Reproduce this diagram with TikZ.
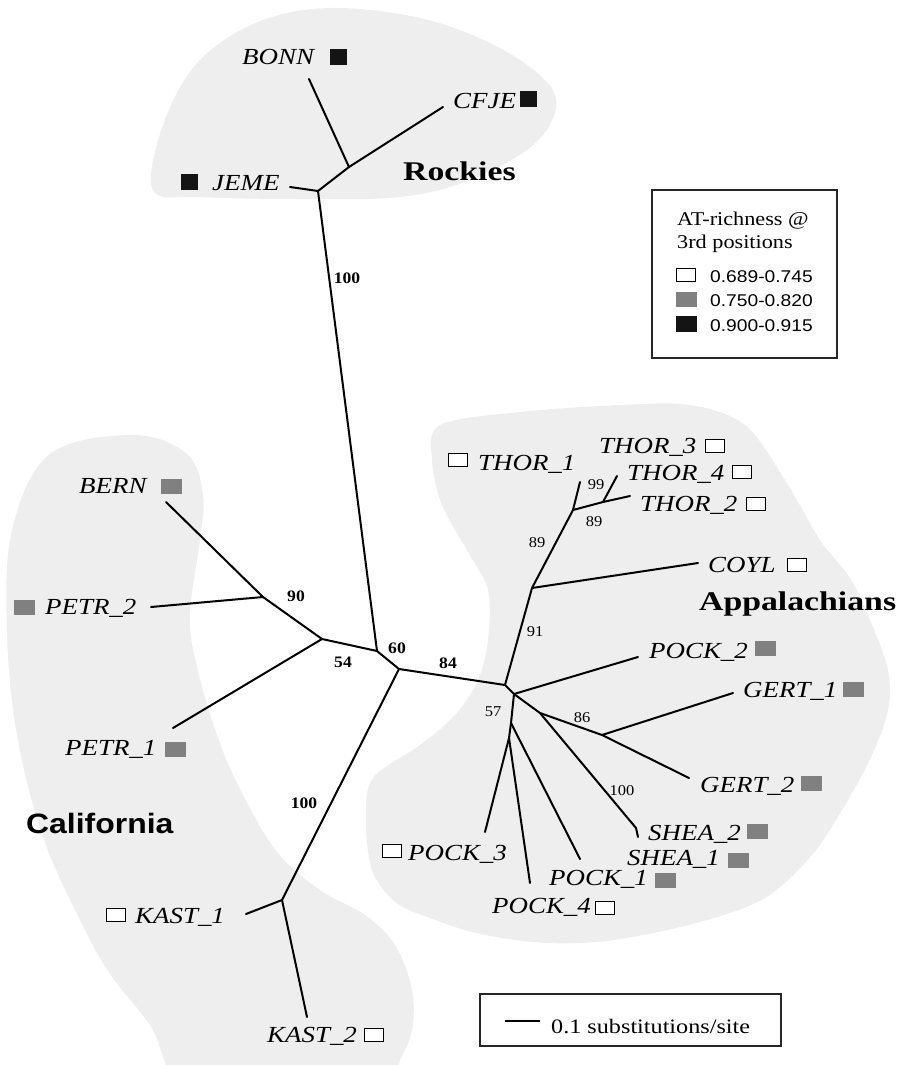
\documentclass[tikz,border=0pt]{standalone}
\usepackage{fontspec}
\setmainfont{Liberation Serif}
\newfontfamily\sansf{Liberation Sans}
\usepackage{graphicx}
\newcommand{\strx}[2][1.17]{\scalebox{#1}[1]{#2}}
\definecolor{blobgray}{gray}{0.935}
\definecolor{sqgray}{gray}{0.5}
\definecolor{sqblack}{gray}{0.08}
\tikzset{
  br/.style={line width=2pt, line cap=round},
  taxon/.style={anchor=base west, inner sep=0pt, font=\fontsize{23}{25}\selectfont\itshape},
  region/.style={anchor=base west, inner sep=0pt, font=\fontsize{27}{29}\selectfont\bfseries},
  bsb/.style={inner sep=0pt, font=\fontsize{16}{17}\selectfont\bfseries},
  bsr/.style={inner sep=0pt, font=\fontsize{15}{16}\selectfont},
  sqw/.style={draw=black, line width=1.3pt, fill=white, minimum width=19pt, minimum height=13pt, inner sep=0pt},
  sqg/.style={fill=sqgray, minimum width=21pt, minimum height=15pt, inner sep=0pt},
  sqb/.style={fill=sqblack, minimum width=17pt, minimum height=16pt, inner sep=0pt},
  blob/.style={fill=blobgray},
  legtxt/.style={anchor=base west, inner sep=0pt, font=\fontsize{19.5}{21}\selectfont},
  legnum/.style={anchor=base west, inner sep=0pt, font=\fontsize{17}{19}\sansf},
}
\begin{document}
\begin{tikzpicture}[x=1pt,y=-1pt]
\useasboundingbox (0,0) rectangle (897,1065);
\begin{scope}
\clip (0,0) rectangle (897,1065);
% Rockies blob
\fill[blob] plot[smooth cycle, tension=0.6] coordinates {
 (153,190) (163,125) (198,62) (258,22) (330,8) (420,18) (492,44) (543,78)
 (556,108) (532,146) (470,180) (400,197) (300,199) (200,197)};
% California blob
\fill[blob] plot[smooth cycle, tension=0.6] coordinates {
 (12,530) (50,454) (133,435) (187,454) (203,495) (200,540) (190,615) (197,667)
 (217,735) (240,789) (277,852) (320,890) (365,915) (395,945) (412,990) (412,1030)
 (400,1060) (380,1100) (200,1100) (150,1025) (110,974) (80,920) (43,837)
 (17,735) (7,632)};
% Appalachians blob
\fill[blob] plot[smooth cycle, tension=0.55] coordinates {
 (440,425) (520,412) (620,405) (690,405) (745,425) (785,480) (820,540) (850,578)
 (870,620) (888,670) (888,710) (872,755) (845,805) (812,855) (765,898) (700,922)
 (614,940) (547,943) (480,934) (430,918) (395,902) (372,870) (366,820) (373,778)
 (420,745) (455,715) (478,680) (488,640) (488,590) (468,552) (442,505) (432,460)};
\end{scope}

% ---------- tree coordinates ----------
\coordinate (R2) at (349,167);
\coordinate (R1) at (318,191);
\coordinate (A) at (377,651);
\coordinate (P0) at (322,639);
\coordinate (P1) at (263,597);
\coordinate (B) at (399,669);
\coordinate (K) at (282,900);
\coordinate (C) at (505,685);
\coordinate (Cy) at (532,588);
\coordinate (T) at (573,510);
\coordinate (T2) at (603,502);
\coordinate (T34) at (617,476);
\coordinate (D) at (514,694);
\coordinate (E) at (511,723);
\coordinate (E2) at (509,738);
\coordinate (F) at (540,713);
\coordinate (G) at (602,735);
\coordinate (S) at (636,828);
\coordinate (tBONN) at (309,79);
\coordinate (tCFJE) at (443,107);
\coordinate (tJEME) at (290,187);
\coordinate (tBERN) at (166,502);
\coordinate (tPETRb) at (151,607);
\coordinate (tPETRa) at (173,728);
\coordinate (tKASTa) at (246,914);
\coordinate (tKASTb) at (307,1017);
\coordinate (tTHORa) at (580,482);
\coordinate (tTHORb) at (630,496);
\coordinate (tCOYL) at (698,563);
\coordinate (tPOCKb) at (638,657);
\coordinate (tGERTa) at (733,693);
\coordinate (tGERTb) at (689,778);
\coordinate (tSHEA) at (638,837);
\coordinate (tPOCKa) at (580,859);
\coordinate (tPOCKd) at (530,883);
\coordinate (tPOCKc) at (485,832);

% ---------- branches ----------
\draw[br] (tBONN) -- (R2);
\draw[br] (tCFJE) -- (R2) -- (R1);
\draw[br] (tJEME) -- (R1);
\draw[br] (R1) -- (A);
\draw[br] (tBERN) -- (P1) -- (P0) -- (A);
\draw[br] (tPETRb) -- (P1);
\draw[br] (tPETRa) -- (P0);
\draw[br] (A) -- (B);
\draw[br] (B) -- (K);
\draw[br] (tKASTa) -- (K) -- (tKASTb);
\draw[br] (B) -- (C);
\draw[br] (C) -- (Cy) -- (T);
\draw[br] (Cy) -- (tCOYL);
\draw[br] (T) -- (tTHORa);
\draw[br] (T) -- (T2) -- (tTHORb);
\draw[br] (T2) -- (T34);
\draw[br] (C) -- (D);
\draw[br] (D) -- (tPOCKb);
\draw[br] (D) -- (E) -- (E2);
\draw[br] (E) -- (tPOCKa);
\draw[br] (E2) -- (tPOCKc);
\draw[br] (E2) -- (tPOCKd);
\draw[br] (D) -- (F) -- (S) -- (tSHEA);
\draw[br] (F) -- (G);
\draw[br] (G) -- (tGERTa);
\draw[br] (G) -- (tGERTb);

% ---------- taxon labels and squares ----------
\node[taxon] (lBONN) at (242,65) {\strx{BONN}};
\node[sqb] (sBONN) at (338,57) {};
\node[taxon] (lCFJE) at (453,108) {\strx{CFJE}};
\node[sqb] (sCFJE) at (528,99) {};
\node[taxon] (lJEME) at (212,190) {\strx{JEME}};
\node[sqb] (sJEME) at (189,182) {};
\node[taxon] (lBERN) at (79,493) {\strx{BERN}};
\node[sqg] (sBERN) at (171,486) {};
\node[taxon] (lPETRb) at (45,614) {\strx{PETR\_2}};
\node[sqg] (sPETRb) at (24,607) {};
\node[taxon] (lPETRa) at (65,755) {\strx{PETR\_1}};
\node[sqg] (sPETRa) at (175,749) {};
\node[taxon] (lKASTa) at (135,923) {\strx{KAST\_1}};
\node[sqw] (sKASTa) at (116,915) {};
\node[taxon] (lKASTb) at (267,1042) {\strx{KAST\_2}};
\node[sqw] (sKASTb) at (374,1035) {};
\node[taxon] (lTHORa) at (478,470) {\strx{THOR\_1}};
\node[sqw] (sTHORa) at (458,460) {};
\node[taxon] (lTHORc) at (599,453) {\strx{THOR\_3}};
\node[sqw] (sTHORc) at (715,446) {};
\node[taxon] (lTHORd) at (627,480) {\strx{THOR\_4}};
\node[sqw] (sTHORd) at (742,472) {};
\node[taxon] (lTHORb) at (640,511) {\strx{THOR\_2}};
\node[sqw] (sTHORb) at (756,504) {};
\node[taxon] (lCOYL) at (708,572) {\strx{COYL}};
\node[sqw] (sCOYL) at (797,565) {};
\node[taxon] (lPOCKb) at (649,658) {\strx{POCK\_2}};
\node[sqg] (sPOCKb) at (765,648) {};
\node[taxon] (lGERTa) at (743,697) {\strx{GERT\_1}};
\node[sqg] (sGERTa) at (853,689) {};
\node[taxon] (lGERTb) at (700,792) {\strx{GERT\_2}};
\node[sqg] (sGERTb) at (811,783) {};
\node[taxon] (lSHEAb) at (648,840) {\strx{SHEA\_2}};
\node[sqg] (sSHEAb) at (757,831) {};
\node[taxon] (lSHEAa) at (627,865) {\strx{SHEA\_1}};
\node[sqg] (sSHEAa) at (738,860) {};
\node[taxon] (lPOCKa) at (549,885) {\strx{POCK\_1}};
\node[sqg] (sPOCKa) at (665,880) {};
\node[taxon] (lPOCKd) at (492,913) {\strx{POCK\_4}};
\node[sqw] (sPOCKd) at (605,908) {};
\node[taxon] (lPOCKc) at (408,860) {\strx{POCK\_3}};
\node[sqw] (sPOCKc) at (392,851) {};

% ---------- region labels ----------
\node[region] (rRock) at (403,180) {\strx[1.25]{Rockies}};
\node[region] (rApp) at (699,610) {\strx[1.25]{Appalachians}};
\node[anchor=base west, inner sep=0pt, font=\fontsize{28}{30}\sansf\bfseries] (rCal) at (26,833) {\strx[1.14]{California}};

% ---------- bootstrap values ----------
\node[bsb] (b100a) at (347,278) {\strx[1.1]{100}};
\node[bsb] (b90) at (296,596) {\strx[1.1]{90}};
\node[bsb] (b54) at (343,662) {\strx[1.1]{54}};
\node[bsb] (b60) at (397,648) {\strx[1.1]{60}};
\node[bsb] (b84) at (448,663) {\strx[1.1]{84}};
\node[bsb] (b100b) at (304,803) {\strx[1.1]{100}};
\node[bsr] (b99) at (596,485) {\strx[1.1]{99}};
\node[bsr] (b89a) at (594,522) {\strx[1.1]{89}};
\node[bsr] (b89b) at (537,543) {\strx[1.1]{89}};
\node[bsr] (b91) at (535,632) {\strx[1.1]{91}};
\node[bsr] (b57) at (493,712) {\strx[1.1]{57}};
\node[bsr] (b86) at (582,718) {\strx[1.1]{86}};
\node[bsr] (b100c) at (622,791) {\strx[1.1]{100}};

% ---------- legend ----------
\node[draw=black!85, line width=1.5pt, minimum width=185pt, minimum height=168pt, inner sep=0pt, anchor=north west] (leg) at (651,189) {};
\node[legtxt] (lt1) at (677,225) {\strx[1.14]{AT-richness @}};
\node[legtxt] (lt2) at (677,248) {\strx[1.14]{3rd positions}};
\node[sqw] (lq1) at (686,275) {};
\node[sqg] (lq2) at (686,299) {};
\node[sqb, minimum width=21pt] (lq3) at (686,324) {};
\node[legnum] (ln1) at (710,282) {\strx[1.13]{0.689-0.745}};
\node[legnum] (ln2) at (710,306) {\strx[1.13]{0.750-0.820}};
\node[legnum] (ln3) at (710,331) {\strx[1.13]{0.900-0.915}};

% ---------- scale bar ----------
\node[draw=black!85, line width=1.5pt, minimum width=301pt, minimum height=52pt, inner sep=0pt, anchor=north west] (scl) at (479,993) {};
\coordinate (sa) at (505,1021);
\coordinate (sb) at (540,1021);
\draw[line width=1.4pt] (sa) -- (sb);
\node[legtxt, font=\fontsize{20.5}{22}\selectfont] (stx) at (551,1033) {\strx[1.18]{0.1 substitutions/site}};
\end{tikzpicture}
\end{document}
